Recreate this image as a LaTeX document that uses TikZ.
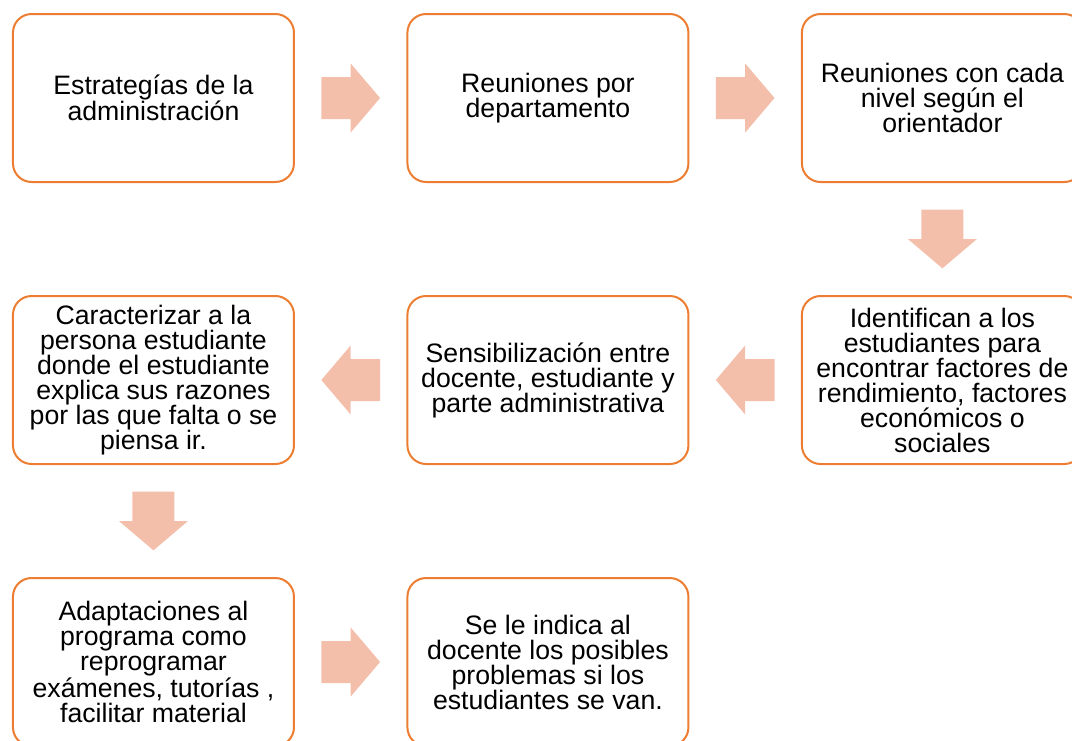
\documentclass[tikz,border=0pt]{standalone}
\usepackage{fontspec}
\setmainfont{Liberation Sans}
\usetikzlibrary{positioning,calc}
\definecolor{steporange}{HTML}{ED7D31}
\definecolor{arrowpink}{HTML}{F4BFAA}
\tikzset{
  stepbox/.style={
    rounded corners=14pt,
    draw=steporange,
    fill=white,
    line width=1.5pt,
    minimum width=210.75pt,
    minimum height=126pt,
    inner sep=2pt,
    align=center,
    font=\fontsize{20pt}{18.75pt}\selectfont
  },
  blockarrow/.pic={
    \fill[arrowpink] (-22pt,-15.75pt) -- (0pt,-15.75pt) -- (0pt,-25.9pt)
      -- (22pt,0pt) -- (0pt,25.9pt) -- (0pt,15.75pt) -- (-22pt,15.75pt) -- cycle;
  }
}
\begin{document}
\begin{tikzpicture}[node distance=84pt and 83.6pt]
\useasboundingbox (0,0) rectangle (804pt,-555pt);
% first row
\node[stepbox] (admin) at (115.1pt,-73.5pt) {Estrategías de la\\administración};
\node[stepbox, right=of admin] (depto) {Reuniones por\\departamento};
\node[stepbox, right=of depto] (nivel) {Reuniones con cada\\nivel según el\\orientador};
% second row
\node[stepbox, below=of nivel] (identif) {Identifican a los\\estudiantes para\\encontrar factores de\\rendimiento, factores\\económicos o\\sociales};
\node[stepbox, left=of identif] (sensib) {Sensibilización entre\\docente, estudiante y\\parte administrativa};
\node[stepbox, left=of sensib] (caract) {Caracterizar a la\\persona estudiante\\donde el estudiante\\explica sus razones\\por las que falta o se\\piensa ir.};
% third row
\node[stepbox, below=of caract] (adapt) {Adaptaciones al\\programa como\\reprogramar\\exámenes, tutorías ,\\facilitar material};
\node[stepbox, right=of adapt] (indica) {Se le indica al\\docente los posibles\\problemas si los\\estudiantes se van.};
% block arrows
\pic at ($(admin.east)!0.5!(depto.west)$) {blockarrow};
\pic at ($(depto.east)!0.5!(nivel.west)$) {blockarrow};
\pic[rotate=-90] at ($(nivel.south)!0.5!(identif.north)$) {blockarrow};
\pic[rotate=180] at ($(identif.west)!0.5!(sensib.east)$) {blockarrow};
\pic[rotate=180] at ($(sensib.west)!0.5!(caract.east)$) {blockarrow};
\pic[rotate=-90] at ($(caract.south)!0.5!(adapt.north)$) {blockarrow};
\pic at ($(adapt.east)!0.5!(indica.west)$) {blockarrow};
\end{tikzpicture}
\end{document}
